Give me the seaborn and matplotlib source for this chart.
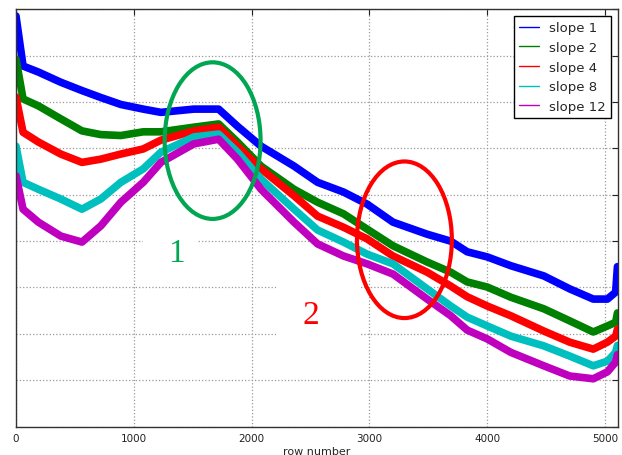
import pandas as pd
import matplotlib.pyplot as plt
import seaborn as sns
from matplotlib.patches import Ellipse, Rectangle

# values (centre of each noisy band)
row_number = [0, 60, 190, 380, 560, 720, 890, 1080, 1230, 1510, 1720, 1880, 2080, 2360,
              2560, 2780, 2980, 3200, 3490, 3690, 3830, 4000, 4200, 4480, 4700, 4900,
              5020, 5090, 5105]
slope_1 = [8.86, 7.78, 7.65, 7.43, 7.25, 7.10, 6.95, 6.85, 6.78, 6.85, 6.85, 6.48, 6.05, 5.62,
           5.27, 5.06, 4.80, 4.41, 4.15, 4.00, 3.77, 3.66, 3.47, 3.25, 2.97, 2.75,
           2.75, 2.90, 3.45]
slope_2 = [7.93, 7.07, 6.92, 6.64, 6.38, 6.30, 6.28, 6.36, 6.36, 6.46, 6.53, 6.14, 5.62, 5.12,
           4.84, 4.59, 4.26, 3.90, 3.55, 3.33, 3.12, 3.01, 2.79, 2.54, 2.28, 2.04,
           2.17, 2.25, 2.45]
slope_4 = [7.11, 6.35, 6.14, 5.88, 5.70, 5.77, 5.88, 5.99, 6.18, 6.38, 6.46, 6.05, 5.56, 4.98,
           4.54, 4.30, 4.05, 3.68, 3.33, 3.03, 2.80, 2.60, 2.39, 2.06, 1.82, 1.67,
           1.82, 1.95, 2.10]
slope_8 = [6.05, 5.27, 5.12, 4.91, 4.69, 4.91, 5.27, 5.56, 5.92, 6.25, 6.31, 5.92, 5.34, 4.69,
           4.24, 3.98, 3.72, 3.51, 2.97, 2.60, 2.36, 2.17, 1.95, 1.74, 1.52, 1.31,
           1.41, 1.60, 1.75]
slope_12 = [5.41, 4.69, 4.41, 4.11, 3.98, 4.33, 4.84, 5.27, 5.70, 6.10, 6.20, 5.77, 5.12, 4.41,
            3.94, 3.68, 3.51, 3.29, 2.75, 2.39, 2.08, 1.89, 1.60, 1.31, 1.09, 1.03,
            1.18, 1.39, 1.55]
series_names = ['slope 1', 'slope 2', 'slope 4', 'slope 8', 'slope 12']
colors = ['#0000ff', '#008000', '#ff0000', '#00bfbf', '#bf00bf']

df = pd.DataFrame({'row': row_number * 5,
                   'value': slope_1 + slope_2 + slope_4 + slope_8 + slope_12,
                   'series': sum([[n] * len(row_number) for n in series_names], [])})

sns.set_style('white')
plt.rcParams['font.family'] = ['DejaVu Sans']

fig = plt.figure(figsize=(6.22, 4.56), dpi=100)
ax = fig.add_axes([0.0257, 0.0625, 0.9679, 0.9145])

sns.lineplot(data=df, x='row', y='value', hue='series', palette=colors,
             hue_order=series_names, linewidth=5.5, estimator=None, ax=ax)
for ln in ax.get_lines():
    ln.set_solid_joinstyle('round')

ax.set_xlim(0, 5110)
ax.set_ylim(0, 9)
ax.set_xticks([0, 1000, 2000, 3000, 4000, 5000])
ax.set_yticks(range(10))
ax.set_yticklabels([])
ax.tick_params(direction='in', length=4, width=0.8, top=True, right=True,
               labelsize=7.5, colors='#222222', pad=5)
ax.grid(True, color='0.6', linestyle=':', linewidth=0.9)
for s in ax.spines.values():
    s.set_color('#333333')
    s.set_linewidth(1.0)
ax.set_xlabel('row number', fontsize=8, labelpad=2)
ax.set_ylabel('')

# white patches where the grid is erased around the labels
ax.add_patch(Rectangle((1076, 3.72), 458, 0.54, facecolor='white', edgecolor='none', zorder=1.7))
ax.add_patch(Rectangle((2203, 1.67), 712, 1.73, facecolor='white', edgecolor='none', zorder=1.7))

ax.add_patch(Ellipse((1669, 6.17), 814, 3.38, fill=False, edgecolor='#00a651', linewidth=3, zorder=5))
ax.add_patch(Ellipse((3297, 4.03), 805, 3.38, fill=False, edgecolor='#ff0000', linewidth=3, zorder=5))
ax.text(1364, 3.74, '1', color='#00a651', fontsize=24, family='Liberation Serif',
        ha='center', va='center', zorder=6)
ax.text(2500, 2.42, '2', color='#ff0000', fontsize=24, family='Liberation Serif',
        ha='center', va='center', zorder=6)

leg = ax.legend(loc='upper right', fontsize=9.5, frameon=True, fancybox=False,
                framealpha=1, edgecolor='black', handlelength=1.5, borderaxespad=0.5)
leg.get_frame().set_linewidth(1.0)
for h in leg.get_lines():
    h.set_linewidth(1.0)

fig.savefig('out.png', dpi=100)
